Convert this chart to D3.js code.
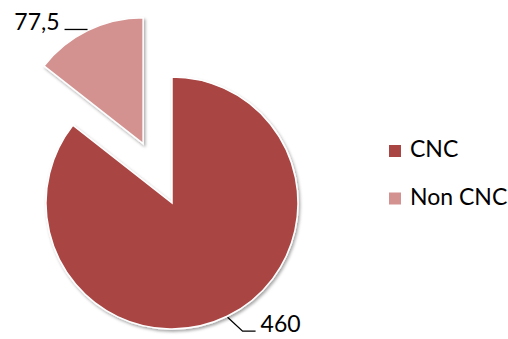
<!DOCTYPE html>
<html>
<head>
<meta charset="utf-8">
<script src="https://cdn.jsdelivr.net/npm/d3@7"></script>
<style>
  html, body { margin: 0; padding: 0; background: #fff; }
  svg { display: block; }
  text { font-family: Lato, "Open Sans", sans-serif; fill: #000; }
</style>
</head>
<body>
<svg id="chart" width="508" height="339"></svg>
<script>
// Series
const categories = ["CNC", "Non CNC"];
const values = [460, 77.5];
const colors = ["#A94543", "#D39290"];

// Layout
const W = 508, H = 339;
const cx = 172, cy = 203, radius = 126;
const explodeBy = { "Non CNC": 66 };

const svg = d3.select("#chart");

const defs = svg.append("defs");
const shadow = defs.append("filter").attr("id", "shadow")
  .attr("x", "-10%").attr("y", "-10%").attr("width", "130%").attr("height", "130%");
shadow.append("feDropShadow")
  .attr("dx", 1.5).attr("dy", 2).attr("stdDeviation", 1.8)
  .attr("flood-color", "#000").attr("flood-opacity", 0.35);

const data = categories.map((c, i) => ({ name: c, value: values[i], color: colors[i] }));

const pie = d3.pie().sort(null).value(d => d.value);
const arcs = pie(data);
const arc = d3.arc().innerRadius(0).outerRadius(radius);

const fmt = d3.formatLocale({ decimal: ",", thousands: ".", grouping: [3], currency: ["", ""] })
  .format("~g");

function offsetOf(a) {
  const d = explodeBy[a.data.name] || 0;
  const m = (a.startAngle + a.endAngle) / 2;
  return [Math.sin(m) * d, -Math.cos(m) * d];
}

const g = svg.append("g").attr("transform", `translate(${cx},${cy})`);

g.selectAll("path.slice")
  .data(arcs)
  .join("path")
  .attr("class", "slice")
  .attr("transform", a => `translate(${offsetOf(a)})`)
  .attr("d", arc)
  .attr("fill", a => a.data.color)
  .attr("stroke", "#fff")
  .attr("stroke-width", 1.5)
  .attr("stroke-linejoin", "miter")
  .attr("filter", "url(#shadow)");

// Data labels with leader lines, anchored to the outer edge at each slice's mid-angle
const leaderSteps = {
  "CNC": { bend: [15, 14], run: 13, side: 1 },
  "Non CNC": { bend: [0, 0], run: 23, side: -1 }
};

arcs.forEach(a => {
  const [ox, oy] = offsetOf(a);
  const m = (a.startAngle + a.endAngle) / 2;
  const edge = radius + 1;
  const x0 = ox + Math.sin(m) * edge;
  const y0 = oy - Math.cos(m) * edge;
  const st = leaderSteps[a.data.name];
  const x1 = x0 + st.bend[0], y1 = y0 + st.bend[1];
  const x2 = x1 + st.side * st.run;
  g.append("path")
    .attr("d", d3.line()([[x0, y0], [x1, y1], [x2, y1]]))
    .attr("fill", "none")
    .attr("stroke", "#000")
    .attr("stroke-width", 1.3);
  g.append("text")
    .attr("x", x2 + st.side * 5)
    .attr("y", y1 + 1)
    .attr("text-anchor", st.side > 0 ? "start" : "end")
    .attr("font-size", 23)
    .text(fmt(a.data.value));
});

// Legend
const legend = svg.append("g").attr("transform", "translate(389,145)");
const items = legend.selectAll("g")
  .data(data)
  .join("g")
  .attr("transform", (d, i) => `translate(0,${i * 47.5})`);
items.append("rect")
  .attr("width", 12).attr("height", 12)
  .attr("fill", d => d.color);
items.append("text")
  .attr("x", 21).attr("y", 12)
  .attr("font-size", 23)
  .text(d => d.name);
</script>
</body>
</html>
